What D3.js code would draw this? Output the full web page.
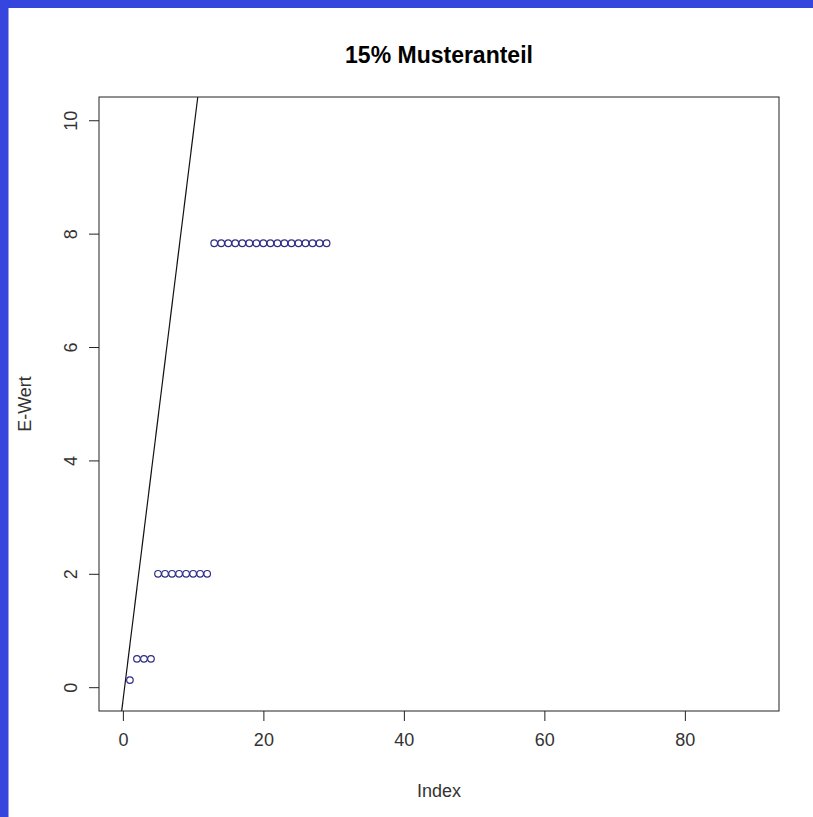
<!DOCTYPE html>
<html>
<head>
<meta charset="utf-8">
<script src="https://cdn.jsdelivr.net/npm/d3@7"></script>
<style>
  html, body { margin: 0; padding: 0; background: #fff; }
  svg { display: block; }
  text { font-family: "Liberation Sans", Arial, sans-serif; }
</style>
</head>
<body>
<svg id="chart" width="813" height="817"></svg>
<script>
// ---- data ----
const title = "15% Musteranteil";
const xLabel = "Index";
const yLabel = "E-Wert";
const indexValues = [1, 2, 3, 4, 5, 6, 7, 8, 9, 10, 11, 12, 13, 14, 15, 16, 17, 18, 19, 20, 21, 22, 23, 24, 25, 26, 27, 28, 29];
const eValues = [0.125, 0.5, 0.5, 0.5, 2, 2, 2, 2, 2, 2, 2, 2,
  7.83, 7.83, 7.83, 7.83, 7.83, 7.83, 7.83, 7.83, 7.83, 7.83, 7.83, 7.83, 7.83, 7.83, 7.83, 7.83, 7.83];
const xTicks = [0, 20, 40, 60, 80];
const yTicks = [0, 2, 4, 6, 8, 10];
const xDomain = [-3.4, 93.4];
const yDomain = [-0.42, 10.41];
const lineIntercept = -0.25;
const lineSlope = 1;

// ---- layout ----
const svg = d3.select("#chart");
const plot = { left: 99, right: 779, top: 97, bottom: 711 };
const axisColor = "#222";
const tickLen = 10;

// blue frame
svg.append("rect").attr("x", 0).attr("y", 0).attr("width", 813).attr("height", 8).attr("fill", "#3545de");
svg.append("rect").attr("x", 0).attr("y", 0).attr("width", 8.5).attr("height", 817).attr("fill", "#3545de");

const x = d3.scaleLinear().domain(xDomain).range([plot.left, plot.right]);
const y = d3.scaleLinear().domain(yDomain).range([plot.bottom, plot.top]);

// clip
svg.append("clipPath").attr("id", "clip")
  .append("rect").attr("x", plot.left).attr("y", plot.top)
  .attr("width", plot.right - plot.left).attr("height", plot.bottom - plot.top);

// abline
svg.append("line")
  .attr("clip-path", "url(#clip)")
  .attr("x1", x(xDomain[0])).attr("y1", y(lineIntercept + lineSlope * xDomain[0]))
  .attr("x2", x(xDomain[1])).attr("y2", y(lineIntercept + lineSlope * xDomain[1]))
  .attr("stroke", "#111").attr("stroke-width", 1.2);

// points
svg.append("g").selectAll("circle")
  .data(indexValues.map((d, i) => [d, eValues[i]]))
  .join("circle")
  .attr("cx", d => x(d[0])).attr("cy", d => y(d[1]))
  .attr("r", 3.3)
  .attr("fill", "none").attr("stroke", "#2e2e85").attr("stroke-width", 1.2);

// box
svg.append("rect")
  .attr("x", plot.left).attr("y", plot.top)
  .attr("width", plot.right - plot.left).attr("height", plot.bottom - plot.top)
  .attr("fill", "none").attr("stroke", axisColor).attr("stroke-width", 1);

// x axis
const xAxis = d3.axisBottom(x).tickValues(xTicks).tickSize(tickLen).tickPadding(12).tickFormat(d3.format("d"));
const gx = svg.append("g").attr("transform", `translate(0,${plot.bottom})`).call(xAxis);
gx.select(".domain").remove();
gx.selectAll("line").attr("stroke", axisColor);
gx.selectAll("text").attr("font-size", 18).attr("fill", "#333")
  .attr("font-family", "'Liberation Sans', Arial, sans-serif");

// y axis
const yAxis = d3.axisLeft(y).tickValues(yTicks).tickSize(tickLen).tickFormat(d3.format("d"));
const gy = svg.append("g").attr("transform", `translate(${plot.left},0)`).call(yAxis);
gy.select(".domain").remove();
gy.selectAll("line").attr("stroke", axisColor);
gy.selectAll("text")
  .attr("font-size", 18).attr("fill", "#333")
  .attr("font-family", "'Liberation Sans', Arial, sans-serif")
  .attr("x", null).attr("dy", null)
  .attr("text-anchor", "middle")
  .attr("transform", "translate(-22,0) rotate(-90)");

// title
svg.append("text")
  .attr("x", (plot.left + plot.right) / 2).attr("y", 63)
  .attr("text-anchor", "middle")
  .attr("font-size", 23).attr("font-weight", "bold").attr("fill", "#000")
  .text(title);

// x label
svg.append("text")
  .attr("x", (plot.left + plot.right) / 2).attr("y", 797)
  .attr("text-anchor", "middle")
  .attr("font-size", 18).attr("fill", "#333")
  .text(xLabel);

// y label
svg.append("text")
  .attr("transform", `translate(31,${(plot.top + plot.bottom) / 2}) rotate(-90)`)
  .attr("text-anchor", "middle")
  .attr("font-size", 18).attr("fill", "#333")
  .text(yLabel);
</script>
</body>
</html>
